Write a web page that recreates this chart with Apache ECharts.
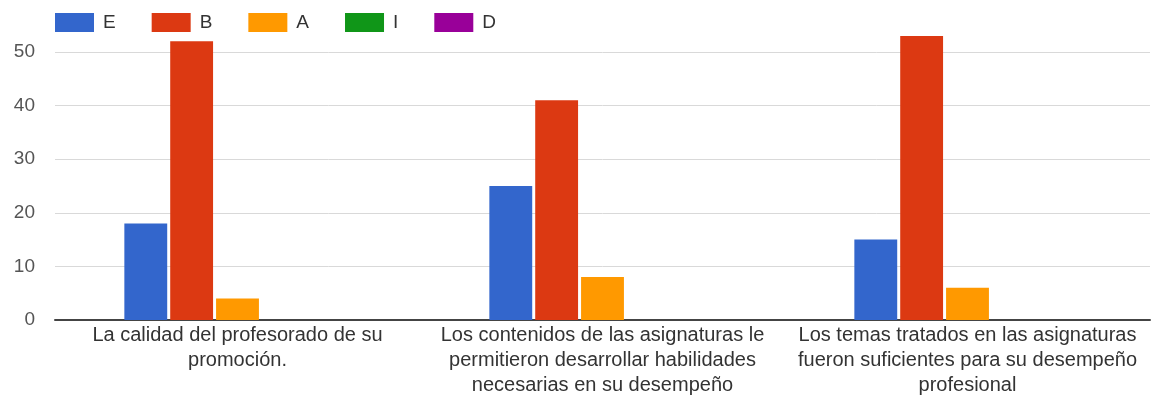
<!DOCTYPE html>
<html>
<head>
<meta charset="utf-8">
<script src="https://cdn.jsdelivr.net/npm/echarts@6/dist/echarts.min.js"></script>
<style>
  html, body { margin: 0; padding: 0; background: #fff; }
  #chart { width: 1154px; height: 403px; }
</style>
</head>
<body>
<div id="chart"></div>
<script>
// categorías (preguntas)
var categories = [
  "La calidad del profesorado de su\npromoción.",
  "Los contenidos de las asignaturas le\npermitieron desarrollar habilidades\nnecesarias en su desempeño",
  "Los temas tratados en las asignaturas\nfueron suficientes para su desempeño\nprofesional"
];
var seriesNames = ["E", "B", "A", "I", "D"];
var valuesE = [18, 25, 15];
var valuesB = [52, 41, 53];
var valuesA = [4, 8, 6];
var valuesI = [0, 0, 0];
var valuesD = [0, 0, 0];
var colors = ["#3366cc", "#dc3912", "#ff9900", "#109618", "#990099"];

var allValues = [valuesE, valuesB, valuesA, valuesI, valuesD];

var chart = echarts.init(document.getElementById("chart"));
var font = "Arial, 'Liberation Sans', sans-serif";

var series = seriesNames.map(function (name, i) {
  return {
    name: name,
    type: "bar",
    data: allValues[i],
    clip: false,
    barGap: "7%",
    barCategoryGap: "38%",
    itemStyle: { color: colors[i] }
  };
});

chart.setOption({
  animation: false,
  color: colors,
  textStyle: { fontFamily: font },
  legend: {
    left: 50,
    top: 8,
    itemWidth: 39,
    itemHeight: 19,
    itemGap: 36,
    icon: "rect",
    textStyle: { fontSize: 19, color: "#333", fontFamily: font, padding: [0, 0, 0, 4] },
    data: seriesNames
  },
  grid: { left: 55, right: 4, top: 52, bottom: 83 },
  xAxis: {
    type: "category",
    data: categories,
    axisLine: { lineStyle: { color: "#444", width: 2 } },
    axisTick: { show: false },
    axisLabel: {
      interval: 0,
      fontSize: 20,
      lineHeight: 25,
      color: "#333",
      margin: 3,
      fontFamily: font
    }
  },
  yAxis: {
    type: "value",
    min: 0,
    max: 50,
    interval: 10,
    axisLine: { show: false },
    axisTick: { show: false },
    splitLine: { lineStyle: { color: "#d9d9d9", width: 1 } },
    axisLabel: { fontSize: 19, color: "#555", margin: 20, fontFamily: font }
  },
  series: series
});
</script>
</body>
</html>
